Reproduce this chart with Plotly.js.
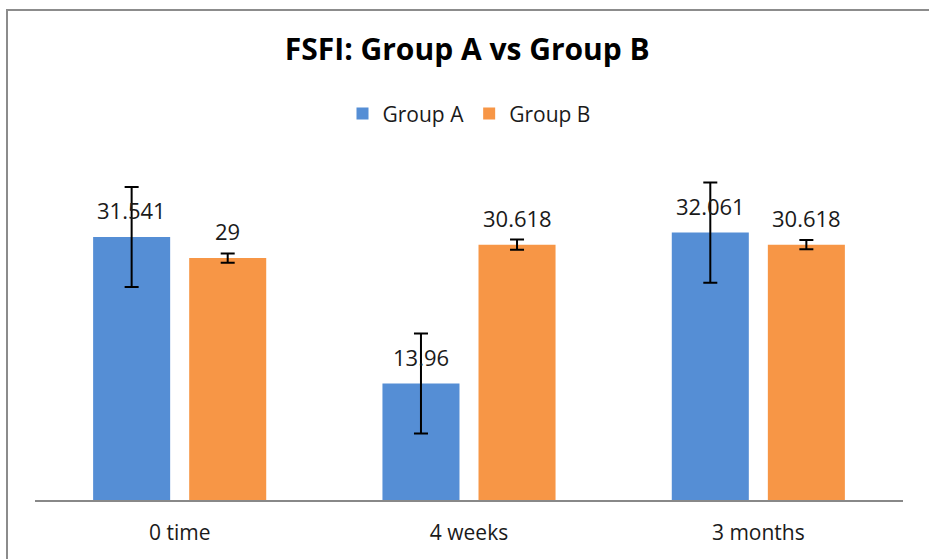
<!DOCTYPE html>
<html>
<head>
<meta charset="utf-8">
<script src="https://cdn.plot.ly/plotly-3.0.1.min.js"></script>
<style>
  body { margin: 0; padding: 0; background: #fff; }
  #wrap { position: relative; width: 929px; height: 559px; overflow: hidden; }
  #chart { position: absolute; left: 0; top: 0; width: 929px; height: 559px; }
  #frame { position: absolute; left: 6px; top: 9px; width: 940px; height: 570px;
           border-left: 2px solid #8c8c8c; border-top: 2px solid #8c8c8c; pointer-events: none; }
</style>
</head>
<body>
<div id="wrap">
  <div id="chart"></div>
  <div id="frame"></div>
</div>
<script>
const categories = ["0 time", "4 weeks", "3 months"];
const groupA = [31.541, 13.96, 32.061];
const groupB = [29, 30.618, 30.618];
const errA = [6.0, 6.0, 6.0];
const errB = [0.55, 0.6, 0.55];
const labelsA = ["31.541", "13.96", "32.061"];
const labelsB = ["29", "30.618", "30.618"];

const blue = "#558ED5";
const orange = "#F79646";

const traces = [
  {
    type: "bar", name: "Group A", x: categories, y: groupA,
    marker: { color: blue },
    error_y: { type: "data", array: errA, visible: true, color: "#000", thickness: 2, width: 7 }
  },
  {
    type: "bar", name: "Group B", x: categories, y: groupB,
    marker: { color: orange },
    error_y: { type: "data", array: errB, visible: true, color: "#000", thickness: 2, width: 7 }
  }
];

const annotations = [];
categories.forEach((c, i) => {
  annotations.push({ x: c, y: groupA[i], xref: "x", yref: "y", text: labelsA[i], showarrow: false,
    xshift: -48, yshift: 10, yanchor: "bottom", font: { family: "Open Sans", size: 22, color: "#1a1a1a" } });
  annotations.push({ x: c, y: groupB[i], xref: "x", yref: "y", text: labelsB[i], showarrow: false,
    xshift: 48, yshift: 10, yanchor: "bottom", font: { family: "Open Sans", size: 22, color: "#1a1a1a" } });
});

const layout = {
  width: 929, height: 559,
  margin: { l: 35, r: 26, t: 120, b: 59 },
  paper_bgcolor: "#fff", plot_bgcolor: "#fff",
  title: { text: "<b>FSFI: Group A vs Group B</b>", x: 0.503, xanchor: "center", y: 0.912, yanchor: "middle",
           font: { family: "Open Sans", size: 30, color: "#000" } },
  showlegend: true,
  legend: { orientation: "h", x: 0.500, xanchor: "center", y: 1.016, yanchor: "middle",
            font: { family: "Open Sans", size: 21, color: "#1a1a1a" }, itemwidth: 30, traceorder: "normal" },
  barmode: "group", bargap: 0.336, bargroupgap: 0.198,
  xaxis: { type: "category", showline: true, linecolor: "#888", linewidth: 2, showgrid: false, zeroline: false,
           ticks: "", ticklabelstandoff: 13, tickfont: { family: "Open Sans", size: 21, color: "#1a1a1a" } },
  yaxis: { range: [0, 45.56], visible: false, showgrid: false, zeroline: false },
  annotations: annotations
};

Plotly.newPlot("chart", traces, layout, { displayModeBar: false, staticPlot: true });
</script>
</body>
</html>
